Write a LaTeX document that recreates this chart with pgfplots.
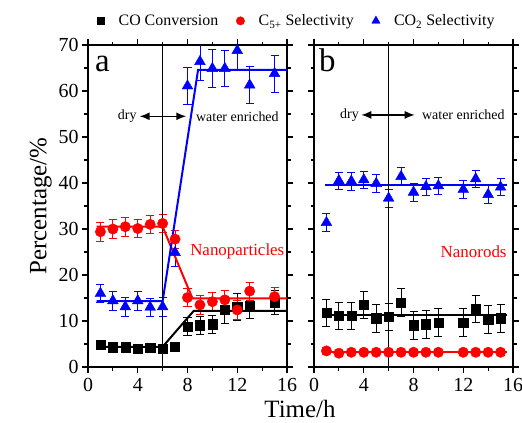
\documentclass[border=0pt]{standalone}
\usepackage{pgfplots}
\pgfplotsset{compat=1.18}
\usepackage{fontspec}
\setmainfont{Liberation Serif}
\usetikzlibrary{arrows.meta}

\newcommand{\fs}[1]{\fontsize{#1}{#1}\selectfont}

\pgfplotsset{
  panel/.style={
    scale only axis, width=199bp, height=322bp,
    xmin=0, xmax=16, ymin=0, ymax=70,
    xtick={0,4,...,16}, minor xtick={2,6,10,14},
    ytick={0,10,...,70}, minor ytick={5,15,...,65},
    tick align=outside, tick pos=both,
    major tick length=6bp, minor tick length=3.5bp,
    axis line style={line width=1.5bp},
    every tick/.style={line width=1.2bp, black},
    tick label style={font=\fs{20}},
    /pgf/number format/assume math mode=true,
    xticklabel style={yshift=-2bp},
  },
  pts/.style={only marks, mark size=#1, forget plot,
    error bars/.cd, y dir=both, y explicit,
    error bar style={line width=0.8bp},
    error mark options={rotate=90, mark size=4bp, line width=0.8bp}},
  fit/.style={line width=2bp, no marks, forget plot},
}

\begin{document}
\begin{tikzpicture}
\path[use as bounding box] (-88bp,-56bp) rectangle (434bp,367bp);

% panel a: nanoparticles
\begin{axis}[panel, at={(0,0)}, anchor=south west,
  ylabel={Percentage/\%}, ylabel style={font=\fs{25}, yshift=0bp},
  legend columns=3,
  legend style={draw=none, fill=none, font=\fs{16}, at={(1.05,1.075)}, anchor=center,
    /tikz/every odd column/.append style={column sep=12bp},
    /tikz/every even column/.append style={column sep=16bp}},
  legend cell align=left,
]
\addlegendimage{only marks, mark=square*, black, mark size=3.6bp}
\addlegendentry{CO Conversion}
\addlegendimage{only marks, mark=*, red, mark size=4.2bp}
\addlegendentry{C\textsubscript{5+} Selectivity}
\addlegendimage{only marks, mark=triangle*, blue, mark size=4.8bp}
\addlegendentry{CO\textsubscript{2} Selectivity}

\addplot[black, mark=square*, pts=4.6bp] coordinates {
  (1,4.8) +- (0,0.9) (2,4.3) +- (0,0.9) (3,4.3) +- (0,0.9) (4,4.0) +- (0,0.9)
  (5,4.2) +- (0,0.9) (6,4.0) +- (0,0.9) (7,4.4) +- (0,1.0) (8,8.8) +- (0,1.9)
  (9,9.1) +- (0,2.0) (10,9.3) +- (0,2.0) (11,12.4) +- (0,3.0) (12,13.1) +- (0,2.9)
  (13,13.3) +- (0,2.8) (15,14.0) +- (0,2.6)
};
\addplot[red, mark=*, pts=5.2bp] coordinates {
  (1,29.4) +- (0,2.0) (2,30.0) +- (0,2.0) (3,30.5) +- (0,2.0) (4,30.1) +- (0,2.0)
  (5,31.0) +- (0,2.0) (6,31.2) +- (0,2.0) (7,27.8) +- (0,2.0) (8,15.1) +- (0,2.0)
  (9,13.5) +- (0,2.0) (10,14.2) +- (0,2.0) (11,14.6) +- (0,2.0) (12,12.4) +- (0,2.0)
  (13,16.5) +- (0,2.0) (15,15.3) +- (0,2.0)
};
\addplot[blue, mark=triangle*, pts=6.2bp] coordinates {
  (1,16.0) +- (0,2.0) (2,14.4) +- (0,2.0) (3,13.1) +- (0,2.0) (4,14.4) +- (0,2.0)
  (5,13.0) +- (0,2.0) (6,13.1) +- (0,2.0) (7,24.9) +- (0,3.0) (8,61.1) +- (0,4.1)
  (9,66.4) +- (0,4.2) (10,64.9) +- (0,4.2) (11,64.9) +- (0,4.0) (12,68.8) +- (0,4.0)
  (13,61.3) +- (0,4.0) (15,63.8) +- (0,4.0)
};
\addplot[fit, black] coordinates {(0.7,4.4) (6,4.4) (8.5,12.2) (16,12.2)};
\addplot[fit, red] coordinates {(0.7,30.5) (6,30.5) (8.4,14.9) (16,14.9)};
\addplot[fit, blue] coordinates {(0.7,14.3) (6,14.3) (8.85,64.6) (16,64.6)};
\draw[line width=1.7bp] (axis cs:6,0) -- (axis cs:6,70);
\draw[line width=1.5bp, -{Latex[length=10bp, width=8bp]}] (axis cs:6,54.5) -- (axis cs:4.15,54.5);
\draw[line width=1.5bp, -{Latex[length=10bp, width=8bp]}] (axis cs:6,54.5) -- (axis cs:7.9,54.5);
\node[anchor=east, font=\fs{14}, inner sep=1bp] at (axis cs:4.0,54.5) {dry};
\node[anchor=west, font=\fs{14}, inner sep=1bp] at (axis cs:8.6,54.5) {water enriched};
\node[anchor=east, font=\fs{17}, red, inner sep=0pt] at (axis cs:15.8,25.1) {Nanoparticles};
\node[anchor=base west, font=\fs{33}, inner sep=0pt] at (axis cs:0.55,64.2) {a};
\end{axis}

% panel b: nanorods
\begin{axis}[panel, at={(226bp,0)}, anchor=south west, yticklabels={}]
\addplot[black, mark=square*, pts=4.6bp] coordinates {
  (1,11.8) +- (0,3.0) (2,11.1) +- (0,3.0) (3,11.1) +- (0,3.0) (4,13.5) +- (0,3.0)
  (5,10.6) +- (0,3.0) (6,10.9) +- (0,3.0) (7,14.0) +- (0,3.0) (8,9.1) +- (0,3.0)
  (9,9.3) +- (0,3.0) (10,9.7) +- (0,3.0) (12,9.7) +- (0,3.0) (13,12.6) +- (0,2.9)
  (14,10.4) +- (0,3.0) (15,10.6) +- (0,3.0)
};
\addplot[red, mark=*, pts=5.2bp] coordinates {
  (1,3.5) +- (0,0.7) (2,3.0) +- (0,0.7) (3,3.2) +- (0,0.7) (4,3.2) +- (0,0.7)
  (5,3.2) +- (0,0.7) (6,3.2) +- (0,0.7) (7,3.2) +- (0,0.7) (8,3.2) +- (0,0.7)
  (9,3.2) +- (0,0.7) (10,3.2) +- (0,0.7) (12,3.2) +- (0,0.7) (13,3.2) +- (0,0.7)
  (14,3.2) +- (0,0.7) (15,3.2) +- (0,0.7)
};
\addplot[blue, mark=triangle*, pts=6.2bp] coordinates {
  (1,31.4) +- (0,1.9) (2,40.5) +- (0,1.9) (3,40.4) +- (0,1.9) (4,40.7) +- (0,1.9)
  (5,39.9) +- (0,1.9) (6,36.7) +- (0,1.9) (7,41.4) +- (0,1.9) (8,38.0) +- (0,1.9)
  (9,39.2) +- (0,1.9) (10,39.4) +- (0,1.9) (12,38.6) +- (0,1.9) (13,40.9) +- (0,1.9)
  (14,37.5) +- (0,1.9) (15,39.1) +- (0,1.9)
};
\addplot[fit, black] coordinates {(0.9,11.2) (15.5,11.2)};
\addplot[fit, red] coordinates {(0.9,3.2) (15.5,3.2)};
\addplot[fit, blue] coordinates {(0.9,39.6) (15.5,39.6)};
\draw[line width=1.7bp] (axis cs:6,0) -- (axis cs:6,70);
\draw[line width=1.5bp, -{Latex[length=10bp, width=8bp]}] (axis cs:6,54.8) -- (axis cs:3.8,54.8);
\draw[line width=1.5bp, -{Latex[length=10bp, width=8bp]}] (axis cs:6,54.8) -- (axis cs:8.1,54.8);
\node[anchor=east, font=\fs{14}, inner sep=1bp] at (axis cs:3.7,54.8) {dry};
\node[anchor=west, font=\fs{14}, inner sep=1bp] at (axis cs:8.6,54.8) {water enriched};
\node[anchor=east, font=\fs{17}, red, inner sep=0pt] at (axis cs:15.5,25.1) {Nanorods};
\node[anchor=base west, font=\fs{33}, inner sep=0pt] at (axis cs:0.4,64.2) {b};
\end{axis}

\node[font=\fs{25}] at (212bp,-42bp) {Time/h};
\end{tikzpicture}
\end{document}
